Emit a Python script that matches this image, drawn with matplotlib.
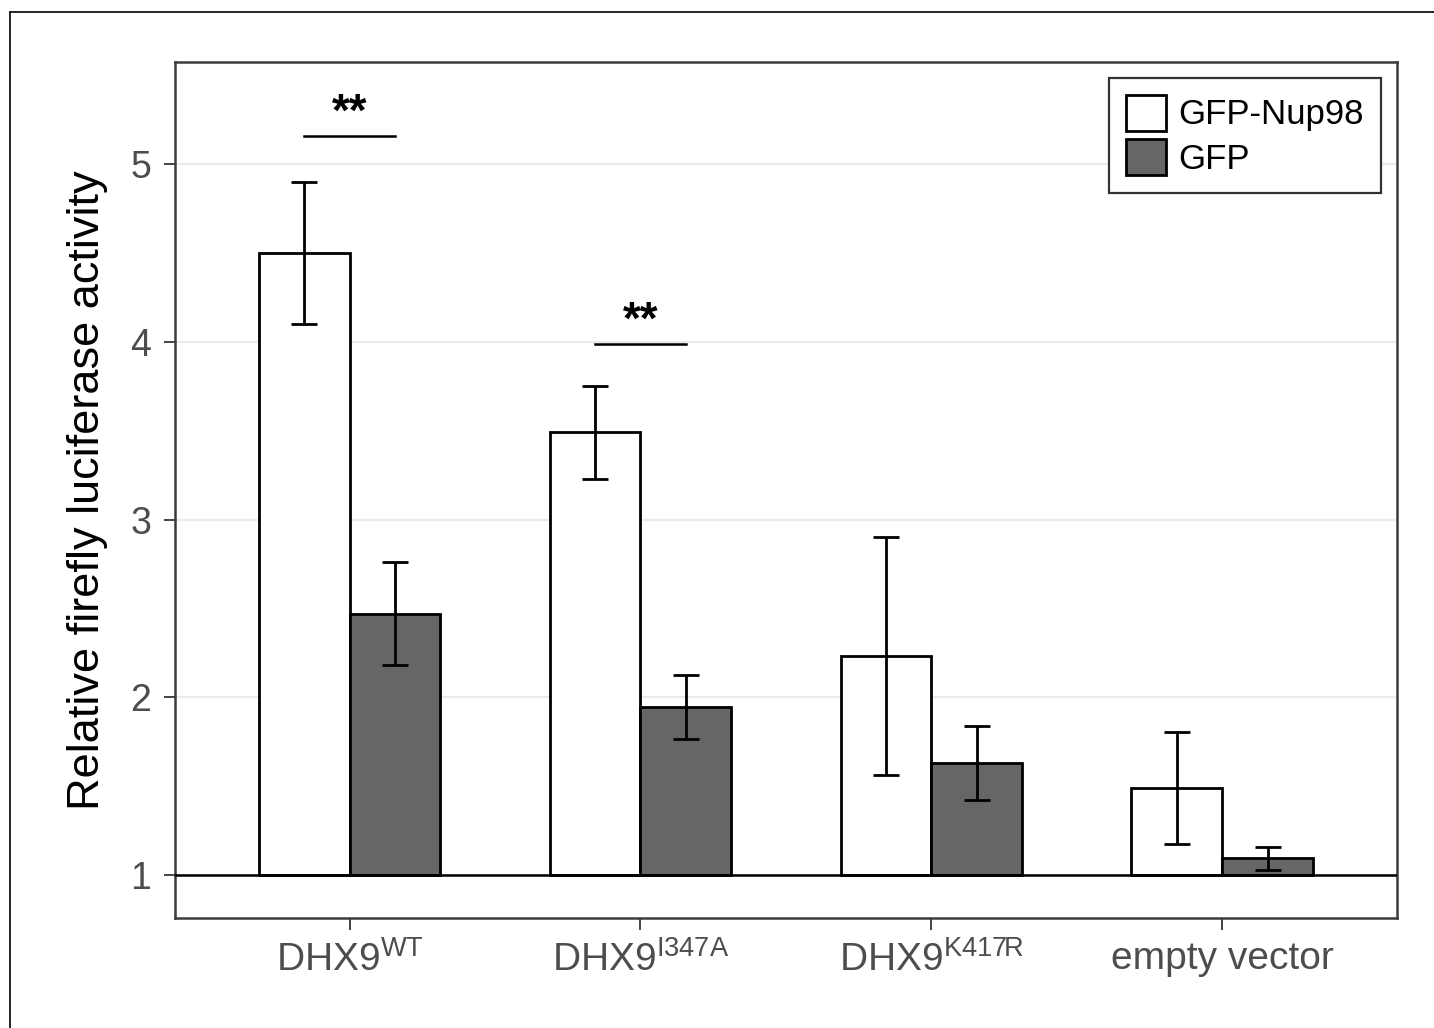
import numpy as np
import matplotlib
matplotlib.use("Agg")
from matplotlib import pyplot as plt
from matplotlib.patches import Patch
from matplotlib.lines import Line2D

plt.rcParams['font.family'] = ['Liberation Sans', 'DejaVu Sans']
plt.rcParams['mathtext.fontset'] = 'custom'
plt.rcParams['mathtext.rm'] = 'Liberation Sans'
plt.rcParams['mathtext.it'] = 'Liberation Sans:italic'

# data
categories = ["DHX9$^{\\mathrm{WT}}$", "DHX9$^{\\mathrm{I347A}}$",
              "DHX9$^{\\mathrm{K417R}}$", "empty vector"]
nup98_mean = [4.50, 3.49, 2.23, 1.49]
nup98_err = [0.40, 0.26, 0.67, 0.315]
gfp_mean = [2.47, 1.945, 1.63, 1.095]
gfp_err = [0.29, 0.18, 0.21, 0.065]
sig_groups = [0, 1]
sig_heights = [5.16, 3.99]
sig_text = ["**", "**"]

base = 1.0
bar_w = 0.3125
x = np.arange(len(categories))

fig = plt.figure(figsize=(14.34, 10.28), dpi=100)
ax = fig.add_axes([0.1220, 0.1070, 0.8522, 0.8327])

ax.set_axisbelow(True)
ax.yaxis.grid(True, color='#ebebeb', linewidth=1.6)

ax.bar(x - bar_w/2, np.array(nup98_mean) - base, bar_w, bottom=base,
       color='white', edgecolor='black', linewidth=2.0, label='GFP-Nup98', zorder=2)
ax.bar(x + bar_w/2, np.array(gfp_mean) - base, bar_w, bottom=base,
       color='#666666', edgecolor='black', linewidth=2.0, label='GFP', zorder=2)
ax.errorbar(x - bar_w/2, nup98_mean, yerr=nup98_err, fmt='none', ecolor='black',
            elinewidth=2.0, capsize=9.4, capthick=2.0, zorder=3)
ax.errorbar(x + bar_w/2, gfp_mean, yerr=gfp_err, fmt='none', ecolor='black',
            elinewidth=2.0, capsize=9.4, capthick=2.0, zorder=3)

ax.axhline(base, color='black', linewidth=1.8, zorder=4)

for g, h, t in zip(sig_groups, sig_heights, sig_text):
    ax.plot([g - bar_w/2, g + bar_w/2], [h, h], color='black', linewidth=1.8)
    ax.text(g, h, t, ha='center', va='bottom', fontsize=33, fontweight='bold',
            color='black')

ax.set_xlim(-0.6, 3.6)
ax.set_ylim(0.758, 5.574)
ax.set_yticks([1, 2, 3, 4, 5])
ax.set_xticks(x)
ax.set_xticklabels(categories)

ax.tick_params(axis='y', labelsize=27, labelcolor='#4d4d4d', color='#444444',
               length=8, width=1.4, pad=9)
ax.tick_params(axis='x', labelsize=28, labelcolor='#4d4d4d', color='#444444',
               length=8.5, width=1.4, pad=8)
for s in ax.spines.values():
    s.set_color('#3c3c3c')
    s.set_linewidth(1.8)

ax.set_ylabel("Relative firefly luciferase activity", fontsize=32.5, color='black',
              labelpad=16)

handles = [Patch(facecolor='white', edgecolor='black', linewidth=2.0, label='GFP-Nup98'),
           Patch(facecolor='#666666', edgecolor='black', linewidth=2.0, label='GFP')]
leg = ax.legend(handles=handles, loc='upper right', fontsize=25, fancybox=False,
                edgecolor='#333333', framealpha=1, borderaxespad=0.45,
                handlelength=1.15, handleheight=1.2, handletextpad=0.35,
                labelspacing=0.22, borderpad=0.5)
leg.get_frame().set_linewidth(1.6)

# thin outer frame (top and left edges visible in the original)
fig.add_artist(Line2D([10/1434, 1.0], [1 - 12/1028, 1 - 12/1028],
                      color='black', linewidth=1.2, transform=fig.transFigure))
fig.add_artist(Line2D([10/1434, 10/1434], [0.0, 1 - 12/1028],
                      color='black', linewidth=1.2, transform=fig.transFigure))

fig.savefig("out.png", dpi=100)
